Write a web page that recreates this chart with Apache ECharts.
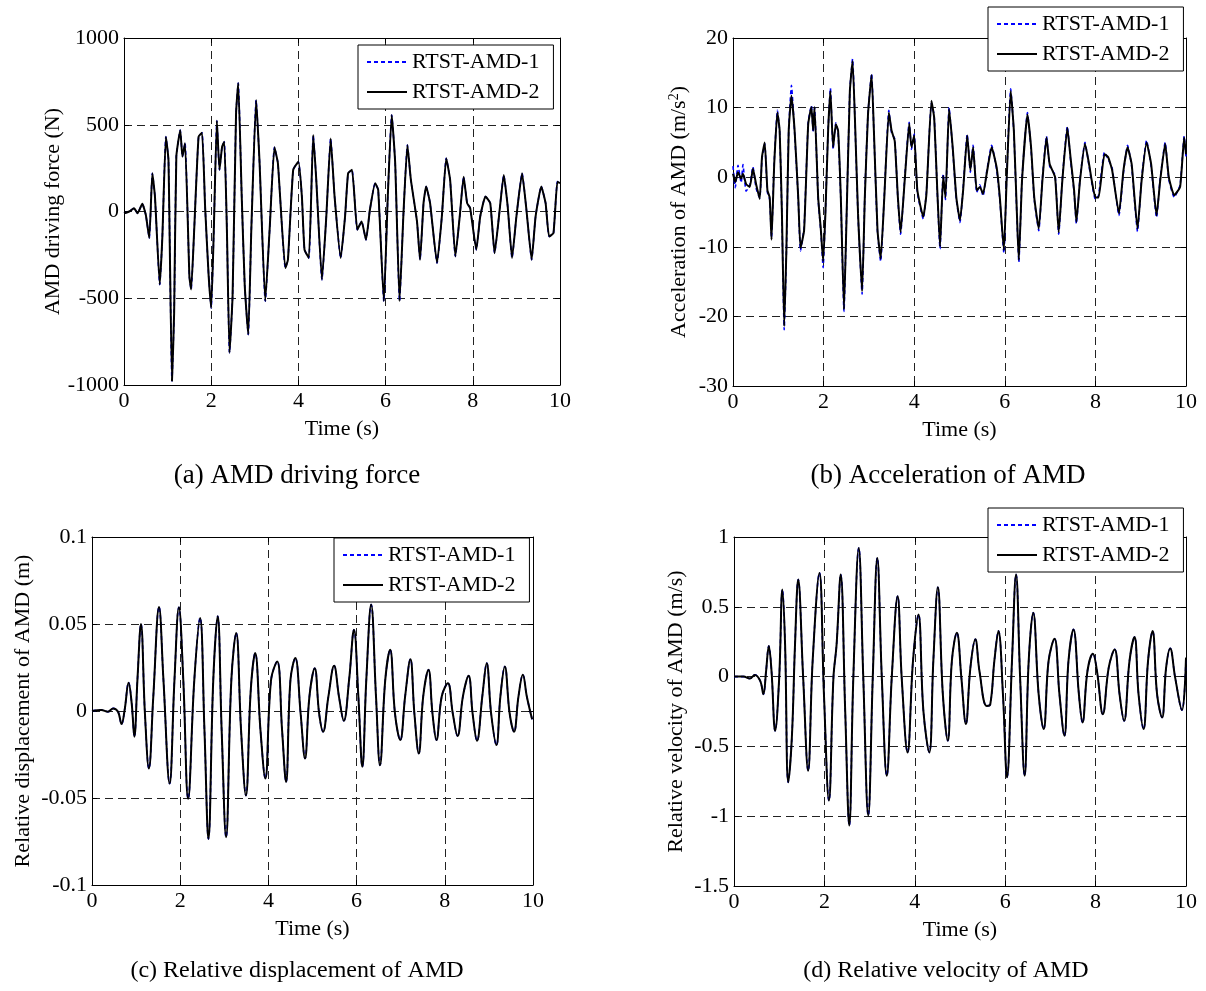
<!DOCTYPE html>
<html>
<head>
<meta charset="utf-8">
<script src="https://cdn.jsdelivr.net/npm/echarts@6/dist/echarts.min.js"></script>
<style>
html,body{margin:0;padding:0;background:#fff;}
#chart{width:1206px;height:991px;}
</style>
</head>
<body>
<div id="chart"></div>
<script>
// ---------- data ----------
var seriesNames = ['RTST-AMD-1', 'RTST-AMD-2'];
var xTicks = [0, 2, 4, 6, 8, 10];

// (a) AMD driving force (N)
var timeA = [0,0.12,0.23,0.31,0.42,0.50,0.58,0.65,0.71,0.82,0.88,0.96,1.02,1.10,1.15,1.20,1.29,1.34,1.40,1.50,1.54,1.61,1.71,1.79,1.86,1.94,2.00,2.06,2.13,2.19,2.25,2.30,2.36,2.42,2.49,2.57,2.62,2.70,2.77,2.85,2.92,3.03,3.11,3.24,3.34,3.45,3.53,3.70,3.76,3.88,4.00,4.08,4.14,4.24,4.34,4.41,4.54,4.64,4.74,4.83,4.97,5.07,5.14,5.23,5.35,5.45,5.55,5.64,5.76,5.83,5.96,6.05,6.14,6.22,6.32,6.41,6.50,6.58,6.72,6.79,6.87,6.93,7.02,7.18,7.29,7.39,7.48,7.60,7.70,7.79,7.87,7.94,8.08,8.17,8.29,8.40,8.50,8.60,8.71,8.80,8.90,9.00,9.13,9.23,9.35,9.44,9.57,9.67,9.75,9.85,9.94,10];
var forceA = [-10,0,19,-10,44,-19,-153,220,86,-421,-144,431,297,-977,-584,316,469,316,393,-374,-450,-105,431,454,29,-364,-556,-105,523,240,374,402,-105,-814,-489,565,741,86,-431,-709,-105,642,278,-517,-105,370,278,-326,-278,240,287,86,-220,-268,441,182,-393,-29,421,86,-268,-29,220,240,-105,-57,-163,10,163,125,-517,86,556,278,-517,-10,383,182,-57,-278,48,144,48,-297,-29,307,182,-259,-29,201,48,19,-220,-29,86,48,-240,-29,211,29,-268,-29,220,10,-278,-29,144,48,-144,-125,172,163];

// (b) Acceleration of AMD (m/s^2)
var timeB = [0,0.05,0.11,0.18,0.22,0.29,0.37,0.44,0.51,0.59,0.64,0.70,0.76,0.81,0.85,0.91,0.98,1.03,1.08,1.13,1.18,1.23,1.29,1.36,1.44,1.49,1.57,1.66,1.73,1.77,1.80,1.88,1.94,1.99,2.04,2.10,2.15,2.21,2.27,2.32,2.38,2.45,2.50,2.58,2.64,2.70,2.76,2.85,2.91,2.98,3.06,3.11,3.19,3.26,3.34,3.44,3.50,3.57,3.64,3.70,3.79,3.89,3.94,4.00,4.07,4.20,4.27,4.38,4.44,4.51,4.57,4.64,4.69,4.77,4.85,4.93,5.01,5.08,5.17,5.24,5.30,5.38,5.45,5.52,5.60,5.71,5.82,5.89,5.98,6.04,6.13,6.20,6.28,6.31,6.38,6.50,6.58,6.65,6.75,6.83,6.92,6.99,7.11,7.19,7.27,7.38,7.45,7.53,7.58,7.66,7.77,7.86,7.92,8.00,8.07,8.20,8.28,8.37,8.52,8.62,8.71,8.80,8.93,9.02,9.13,9.23,9.35,9.43,9.54,9.62,9.74,9.87,9.96,10];
var accB2 = [0.5,-0.7,0.7,-0.2,0.5,-1.0,-1.4,1.2,-1.0,-3.1,2.9,5.0,-1.9,-2.9,-9.0,1.9,9.3,6.7,-5.2,-21.4,-10.0,6.7,11.7,6.7,-2.9,-10.2,-7.6,7.6,10.1,6.7,10.1,-2.9,-7.6,-12.1,-5.2,6.7,12.4,4.3,7.6,6.7,-2.9,-19.0,-7.6,12.4,16.7,6.7,-5.2,-16.4,-2.9,9.0,14.7,6.7,-7.6,-11.7,-2.9,9.3,6.7,5.2,-2.9,-7.9,-0.5,7.7,4.3,6.0,-1.9,-5.7,-2.4,11.0,8.6,-1.9,-10.0,0.2,-2.9,9.8,4.3,-2.9,-6.2,-1.9,6.0,1.0,4.3,-1.9,-1.4,-2.4,0.5,4.3,1.4,-2.9,-10.5,-0.5,12.4,6.7,-7.6,-11.9,-0.5,9.0,4.3,-2.9,-7.4,-0.5,5.7,1.9,0.0,-7.9,-0.5,7.1,2.9,-1.9,-6.4,-0.5,4.8,1.9,-0.5,-2.9,-2.9,3.3,2.9,1.0,-5.2,1.0,4.3,1.9,-7.4,-0.5,5.0,1.9,-5.5,-0.5,4.8,0.0,-2.6,-1.4,5.7,3.3];
var accB1 = [1.6,-1.5,1.7,-0.8,1.8,-2.0,-1.2,1.5,-1.6,-3.0,2.6,4.8,-2.2,-3.2,-8.7,2.2,9.6,6.5,-5.5,-21.9,-10.4,6.9,13.2,6.4,-3.1,-10.6,-7.2,7.9,10.3,6.4,10.0,-3.2,-7.9,-13.0,-5.0,6.9,12.8,4.0,7.8,6.4,-3.2,-19.3,-7.3,12.6,17.0,6.4,-5.5,-16.8,-2.6,9.2,14.9,6.5,-7.9,-12.1,-2.6,9.6,6.4,5.5,-3.2,-8.2,-0.2,7.9,4.0,6.2,-2.2,-6.0,-2.1,10.6,8.9,-2.2,-10.3,0.5,-3.2,10.0,4.0,-3.2,-6.5,-1.6,6.2,0.7,4.6,-2.2,-1.1,-2.7,0.8,4.6,1.1,-3.2,-10.9,-0.2,12.7,6.4,-7.9,-12.2,-0.2,9.3,4.0,-3.2,-7.7,-0.2,5.9,1.6,0.3,-8.2,-0.2,7.3,2.6,-2.2,-6.7,-0.2,5.0,1.6,-0.8,-3.2,-2.6,3.6,2.6,1.3,-5.5,0.7,4.6,1.6,-7.8,-0.2,5.3,1.6,-5.8,-0.2,5.0,-0.3,-2.9,-1.1,5.9,3.0];

// (c) Relative displacement of AMD (m)
var timeC = [0,0.21,0.36,0.48,0.59,0.67,0.74,0.83,0.90,0.96,1.03,1.11,1.20,1.29,1.39,1.52,1.62,1.76,1.87,1.97,2.07,2.18,2.32,2.45,2.55,2.64,2.75,2.85,2.94,3.04,3.16,3.27,3.38,3.49,3.60,3.70,3.82,3.93,4.06,4.20,4.31,4.40,4.50,4.61,4.73,4.83,4.93,5.05,5.15,5.24,5.36,5.49,5.60,5.71,5.83,5.94,6.04,6.13,6.22,6.33,6.44,6.53,6.65,6.76,6.87,6.99,7.10,7.22,7.31,7.41,7.51,7.63,7.72,7.81,7.93,8.07,8.18,8.29,8.41,8.54,8.63,8.73,8.85,8.95,9.05,9.17,9.26,9.36,9.47,9.57,9.67,9.77,9.86,9.98];
var dispC = [0,0.0006,-0.0004,0.0015,-0.0004,-0.0075,0.0006,0.0163,0.0044,-0.0148,0.0179,0.0500,-0.0013,-0.0331,0.0083,0.0598,0.0179,-0.0417,0.0179,0.0596,0.0179,-0.0504,0.0179,0.0535,-0.0110,-0.0735,0.0179,0.0544,-0.0110,-0.0725,0.0179,0.0448,-0.0110,-0.0485,0.0121,0.0333,-0.0110,-0.0388,0.0179,0.0285,-0.0110,-0.0408,0.0179,0.0304,-0.0013,-0.0273,0.0083,0.0246,-0.0013,-0.0119,0.0083,0.0260,0.0083,-0.0056,0.0179,0.0467,0.0083,-0.0321,0.0179,0.0612,0.0083,-0.0312,0.0179,0.0352,-0.0013,-0.0167,0.0083,0.0298,-0.0013,-0.0244,0.0083,0.0237,-0.0013,-0.0167,0.0083,0.0160,-0.0013,-0.0144,0.0083,0.0202,-0.0013,-0.0171,0.0083,0.0275,-0.0013,-0.0196,0.0083,0.0256,-0.0013,-0.0119,0.0083,0.0208,0.0083,-0.0048];

// (d) Relative velocity of AMD (m/s)
var timeD = [0,0.21,0.35,0.46,0.58,0.65,0.71,0.77,0.83,0.91,1.00,1.07,1.13,1.20,1.28,1.35,1.42,1.53,1.64,1.74,1.89,1.99,2.10,2.20,2.27,2.36,2.46,2.55,2.64,2.76,2.86,2.97,3.07,3.17,3.27,3.38,3.49,3.62,3.71,3.84,3.96,4.08,4.19,4.32,4.41,4.51,4.62,4.73,4.82,4.93,5.03,5.13,5.23,5.34,5.43,5.59,5.67,5.76,5.85,5.95,6.04,6.15,6.24,6.33,6.43,6.52,6.62,6.74,6.85,6.96,7.09,7.20,7.31,7.40,7.51,7.63,7.71,7.82,7.94,8.03,8.16,8.29,8.42,8.53,8.63,8.75,8.86,8.95,9.06,9.16,9.26,9.36,9.47,9.56,9.65,9.76,9.91,10];
var velD = [0,0,-0.014,0.012,-0.031,-0.126,0.040,0.219,0.040,-0.388,-0.007,0.624,0.231,-0.757,-0.436,0.231,0.695,-0.007,-0.674,0.112,0.743,-0.126,-0.888,-0.007,0.231,0.731,-0.245,-1.067,-0.007,0.921,-0.007,-0.995,-0.007,0.850,-0.007,-0.710,-0.007,0.576,-0.007,-0.543,0.112,0.445,-0.245,-0.543,0.112,0.640,-0.126,-0.460,0.112,0.314,-0.007,-0.340,0.064,0.267,0.040,-0.210,-0.198,0.112,0.326,-0.126,-0.721,0.112,0.731,-0.007,-0.710,0.112,0.457,-0.126,-0.376,0.112,0.271,-0.126,-0.424,0.112,0.338,-0.126,-0.329,0.040,0.164,0.040,-0.269,0.064,0.195,-0.126,-0.317,0.112,0.283,-0.126,-0.376,0.112,0.326,-0.126,-0.293,0.064,0.202,-0.007,-0.240,0.136];

var captions = ['(a) AMD driving force', '(b) Acceleration of AMD', '(c) Relative displacement of AMD', '(d) Relative velocity of AMD'];

// ---------- chart ----------
var FONT = 'Liberation Serif, Times New Roman, serif';
function pairs(t, v) { return t.map(function (x, i) { return [x, v[i]]; }); }

var panels = [
  {grid:{left:124, top:38, width:436, height:347}, y:{min:-1000,max:1000,interval:500}, name:'AMD driving force (N)', nameGap:60,
   s1:pairs(timeA, forceA), s2:pairs(timeA, forceA), smooth:0.15, legend:{left:358, top:45}},
  {grid:{left:733, top:38, width:453, height:348}, y:{min:-30,max:20,interval:10}, name:'Acceleration of AMD (m/s{sup|2})', nameGap:42,
   s1:pairs(timeB, accB1), s2:pairs(timeB, accB2), smooth:0.15, legend:{left:988, top:7}},
  {grid:{left:92, top:537, width:441, height:348}, y:{min:-0.1,max:0.1,interval:0.05}, name:'Relative displacement of AMD (m)', nameGap:58,
   s1:pairs(timeC, dispC), s2:pairs(timeC, dispC), smooth:0.4, legend:{left:334, top:538}},
  {grid:{left:734, top:537, width:452, height:349}, y:{min:-1.5,max:1,interval:0.5}, name:'Relative velocity of AMD (m/s)', nameGap:47,
   s1:pairs(timeD, velD), s2:pairs(timeD, velD), smooth:0.4, legend:{left:988, top:508}}
];

var grids = [], xAxes = [], yAxes = [], series = [], legends = [], graphics = [];
var tickLabel = {fontFamily: FONT, fontSize: 22, color: '#000', formatter: function (v) { return String(+v.toFixed(4)); }};
var gridLine = {show: true, lineStyle: {color: '#222', type: [8, 5], width: 1}};
panels.forEach(function (p, k) {
  grids.push(Object.assign({show: false, containLabel: false}, p.grid));
  var common = {type: 'value', min: 0, max: 10, interval: 2, gridIndex: k};
  xAxes.push(Object.assign({}, common, {
    position: 'bottom',
    axisLine: {show: true, onZero: false, lineStyle: {color: '#000', width: 1}},
    axisTick: {show: true, inside: true, length: 5, lineStyle: {color: '#000'}},
    axisLabel: Object.assign({margin: 5}, tickLabel),
    splitLine: gridLine,
    name: 'Time (s)', nameLocation: 'middle', nameGap: 33,
    nameTextStyle: {fontFamily: FONT, fontSize: 22, color: '#000'}
  }));
  xAxes.push(Object.assign({}, common, {
    position: 'top',
    axisLine: {show: true, onZero: false, lineStyle: {color: '#000', width: 1}},
    axisTick: {show: true, inside: true, length: 5, lineStyle: {color: '#000'}},
    axisLabel: {show: false}, splitLine: {show: false}
  }));
  var yc = {type: 'value', min: p.y.min, max: p.y.max, interval: p.y.interval, gridIndex: k};
  yAxes.push(Object.assign({}, yc, {
    position: 'left',
    axisLine: {show: true, onZero: false, lineStyle: {color: '#000', width: 1}},
    axisTick: {show: true, inside: true, length: 5, lineStyle: {color: '#000'}},
    axisLabel: Object.assign({margin: 5}, tickLabel),
    splitLine: gridLine,
    name: p.name, nameLocation: 'middle', nameGap: p.nameGap,
    nameTextStyle: {fontFamily: FONT, fontSize: 22, color: '#000',
      rich: {sup: {fontFamily: FONT, fontSize: 14, color: '#000', verticalAlign: 'top', padding: [0, 0, 10, 0]}}}
  }));
  yAxes.push(Object.assign({}, yc, {
    position: 'right',
    axisLine: {show: true, onZero: false, lineStyle: {color: '#000', width: 1}},
    axisTick: {show: true, inside: true, length: 5, lineStyle: {color: '#000'}},
    axisLabel: {show: false}, splitLine: {show: false}
  }));
  series.push({
    name: seriesNames[0], type: 'line', xAxisIndex: 2 * k, yAxisIndex: 2 * k,
    data: p.s1, symbol: 'none', smooth: p.smooth, z: 3,
    lineStyle: {color: '#0000ff', width: 1.6, type: [4, 3]}, itemStyle: {color: '#0000ff'}
  });
  series.push({
    name: seriesNames[1], type: 'line', xAxisIndex: 2 * k, yAxisIndex: 2 * k,
    data: p.s2, symbol: 'none', smooth: p.smooth, z: 4,
    lineStyle: {color: '#000', width: 2}, itemStyle: {color: '#000'}
  });
  legends.push({
    data: seriesNames, orient: 'vertical', left: p.legend.left, top: p.legend.top,
    backgroundColor: '#fff', borderColor: '#000', borderWidth: 1, borderRadius: 0,
    padding: [6, 14, 6, 8], itemGap: 8, itemWidth: 40, itemHeight: 14,
    selectedMode: false, z: 10,
    itemStyle: {opacity: 0},
    textStyle: {fontFamily: FONT, fontSize: 22, color: '#000'}
  });
});

var capPos = [[297, 476, 27], [948, 476, 27], [297, 971, 24], [946, 971, 24]];
captions.forEach(function (c, i) {
  graphics.push({type: 'text', x: capPos[i][0], y: capPos[i][1], z: 20,
    style: {text: c, fontFamily: FONT, fontSize: capPos[i][2], fill: '#000', align: 'center', verticalAlign: 'middle'}});
});

var chart = echarts.init(document.getElementById('chart'), null, {renderer: 'canvas'});
chart.setOption({
  animation: false,
  backgroundColor: '#fff',
  grid: grids, xAxis: xAxes, yAxis: yAxes, series: series, legend: legends, graphic: graphics
});
</script>
</body>
</html>
